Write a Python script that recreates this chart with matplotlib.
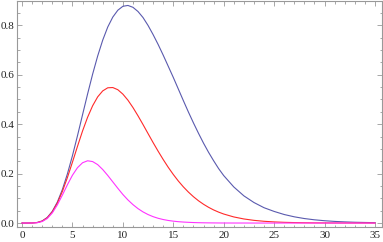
import matplotlib
matplotlib.use("Agg")
import matplotlib.pyplot as plt
from matplotlib.ticker import MultipleLocator, FixedLocator

# x positions where values were read
x_vals = [0, 0.5, 1, 1.5, 2, 2.5, 3, 3.5, 4, 4.5, 5, 5.5, 6, 6.5, 7, 7.5, 8, 8.5, 9, 9.5,
          10, 10.5, 11, 11.5, 12, 12.5, 13, 13.5, 14, 14.5, 15, 15.5, 16, 16.5, 17, 17.5,
          18, 18.5, 19, 19.5, 20, 21, 22, 23, 24, 25, 26, 27, 28, 29, 30, 31, 32, 33, 34, 35]

blue_vals = [0.0, 0.0, 0.0003, 0.0023, 0.0086, 0.0226, 0.0473, 0.0847, 0.1355, 0.1989,
             0.2725, 0.3533, 0.4379, 0.5218, 0.6021, 0.6754, 0.7396, 0.7927, 0.8329, 0.8607,
             0.8766, 0.88, 0.8725, 0.8555, 0.831, 0.799, 0.762, 0.722, 0.679, 0.634,
             0.589, 0.542, 0.495, 0.449, 0.405, 0.363, 0.323, 0.286, 0.252, 0.220,
             0.192, 0.146, 0.110, 0.083, 0.062, 0.047, 0.0345, 0.0252, 0.0182, 0.0131,
             0.0094, 0.0066, 0.0047, 0.0032, 0.0023, 0.0016]

red_vals = [0.0, 0.0, 0.0002, 0.002, 0.0078, 0.0212, 0.045, 0.0807, 0.1278, 0.1841,
            0.2463, 0.3103, 0.3722, 0.4277, 0.4742, 0.5102, 0.5344, 0.547, 0.548, 0.5392,
            0.5214, 0.497, 0.4672, 0.4337, 0.3982, 0.3616, 0.3253, 0.2903, 0.2569, 0.2254,
            0.1965, 0.170, 0.1463, 0.1252, 0.1065, 0.0901, 0.0759, 0.0636, 0.053, 0.0441,
            0.0365, 0.0247, 0.0165, 0.0109, 0.0071, 0.0046, 0.0029, 0.0019, 0.0012, 0.0007,
            0.0005, 0.0003, 0.0002, 0.0001, 0.0001, 0.0]

magenta_vals = [0.0, 0.0, 0.0001, 0.0012, 0.0061, 0.0183, 0.0407, 0.0733, 0.113, 0.155,
                0.1934, 0.224, 0.2438, 0.2518, 0.2486, 0.2363, 0.2165, 0.1925, 0.1665, 0.1405,
                0.1155, 0.0935, 0.0745, 0.0583, 0.0450, 0.0343, 0.0258, 0.0192, 0.0142, 0.0104,
                0.0076, 0.0055, 0.0040, 0.0029, 0.0020, 0.0014, 0.0010, 0.0007, 0.0005, 0.0003,
                0.0002, 0.0001, 0.0001, 0.0, 0.0, 0.0, 0.0, 0.0, 0.0, 0.0,
                0.0, 0.0, 0.0, 0.0, 0.0, 0.0]

x_ticks = [0, 5, 10, 15, 20, 25, 30, 35]
y_ticks = [0.0, 0.2, 0.4, 0.6, 0.8]
y_tick_labels = ["0.0", "0.2", "0.4", "0.6", "0.8"]

fig = plt.figure(figsize=(3.83, 2.42), dpi=100)
ax = fig.add_axes([17 / 383, 15 / 242, 365 / 383, 226 / 242])

ax.plot(x_vals, blue_vals, color="#5a5aae", lw=0.8)
ax.plot(x_vals, red_vals, color="#ff2a2a", lw=0.8)
ax.plot(x_vals, magenta_vals, color="#ff33ff", lw=0.8)

ax.set_xlim(-0.5, 35.7)
ax.set_ylim(-0.016, 0.898)

ax.xaxis.set_major_locator(FixedLocator(x_ticks))
ax.xaxis.set_minor_locator(MultipleLocator(1))
ax.yaxis.set_major_locator(FixedLocator(y_ticks))
ax.yaxis.set_minor_locator(MultipleLocator(0.05))
ax.set_yticklabels(y_tick_labels)

frame_col = "#999999"
for s in ax.spines.values():
    s.set_color(frame_col)
    s.set_linewidth(0.8)

ax.tick_params(which="both", direction="in", top=True, right=True,
               color=frame_col, width=0.6, labelsize=8, labelcolor="#222222")
ax.tick_params(axis="x", pad=3)
ax.tick_params(axis="y", pad=2)
ax.tick_params(which="major", length=3.5)
ax.tick_params(which="minor", length=1.8)
for lab in ax.get_xticklabels() + ax.get_yticklabels():
    lab.set_fontfamily("Liberation Serif")

fig.savefig("out.png", dpi=100)
